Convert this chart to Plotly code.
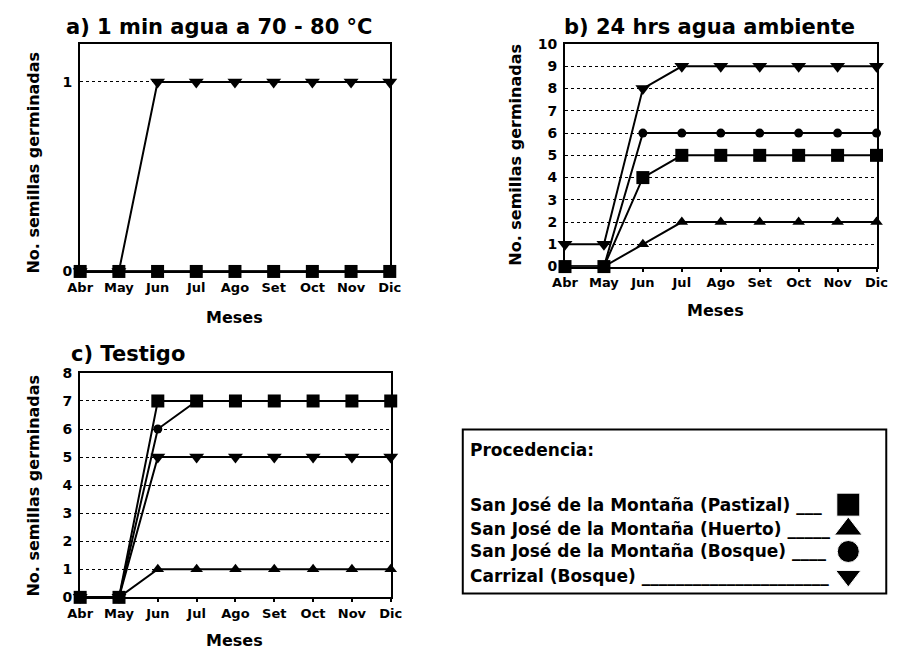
import plotly.graph_objects as go

# Months on the x axis
meses = ["Abr", "May", "Jun", "Jul", "Ago", "Set", "Oct", "Nov", "Dic"]

# Seed origins (legend labels) and their symbols
procedencias = [
    "San José de la Montaña (Pastizal)",
    "San José de la Montaña (Huerto)",
    "San José de la Montaña (Bosque)",
    "Carrizal (Bosque)",
]
simbolos = ["square", "triangle-up", "circle", "triangle-down"]

# a) 1 min in water at 70-80 °C
a_pastizal = [0, 0, 0, 0, 0, 0, 0, 0, 0]
a_huerto = [0, 0, 0, 0, 0, 0, 0, 0, 0]
a_bosque = [0, 0, 0, 0, 0, 0, 0, 0, 0]
a_carrizal = [0, 0, 1, 1, 1, 1, 1, 1, 1]

# b) 24 hrs in water at room temperature
b_pastizal = [0, 0, 4, 5, 5, 5, 5, 5, 5]
b_huerto = [0, 0, 1, 2, 2, 2, 2, 2, 2]
b_bosque = [0, 0, 6, 6, 6, 6, 6, 6, 6]
b_carrizal = [1, 1, 8, 9, 9, 9, 9, 9, 9]

# c) control
c_pastizal = [0, 0, 7, 7, 7, 7, 7, 7, 7]
c_huerto = [0, 0, 1, 1, 1, 1, 1, 1, 1]
c_bosque = [0, 0, 6, 7, 7, 7, 7, 7, 7]
c_carrizal = [0, 0, 5, 5, 5, 5, 5, 5, 5]

paneles = [
    ("x", "y", [a_pastizal, a_huerto, a_bosque, a_carrizal]),
    ("x2", "y2", [b_pastizal, b_huerto, b_bosque, b_carrizal]),
    ("x3", "y3", [c_pastizal, c_huerto, c_bosque, c_carrizal]),
]

W, H = 907, 660
FONT = "DejaVu Sans"
marker_size = {"square": 13, "triangle-up": 11, "circle": 9, "triangle-down": 13}

fig = go.Figure()
xs = list(range(len(meses)))
# draw order: Carrizal, Bosque, Huerto, Pastizal (squares on top)
for xa, ya, series in paneles:
    for i in [3, 2, 1, 0]:
        fig.add_trace(go.Scatter(
            x=xs, y=series[i], xaxis=xa, yaxis=ya, mode="lines+markers",
            line=dict(color="black", width=2),
            marker=dict(symbol=simbolos[i], size=marker_size[simbolos[i]], color="black"),
            cliponaxis=False, showlegend=False, name=procedencias[i],
        ))


def px_x(p):
    return p / W


def px_y(p):
    return 1 - p / H


def xaxis_cfg(x0, x1, y_anchor):
    return dict(
        domain=[px_x(x0), px_x(x1)], anchor=y_anchor, range=[0, 8],
        tickvals=xs, ticktext=meses,
        tickfont=dict(family=FONT, size=13, color="black", weight="bold"),
        showline=True, mirror=True, linecolor="black", linewidth=2,
        ticks="outside", ticklen=3, tickwidth=1.5, tickcolor="black",
        showgrid=False, zeroline=False, fixedrange=True,
    )


def yaxis_cfg(y0, y1, x_anchor, ymax, tickvals):
    return dict(
        domain=[px_y(y1), px_y(y0)], anchor=x_anchor, range=[0, ymax],
        tickvals=tickvals, tickfont=dict(family=FONT, size=14, color="black", weight="bold"),
        showline=True, mirror=True, linecolor="black", linewidth=2,
        ticks="", ticklabelstandoff=3,
        showgrid=True, gridcolor="black", gridwidth=1, griddash="dot",
        zeroline=False, fixedrange=True,
    )


# legend box in pixels
LX0, LX1, LY0, LY1 = 462, 897, 432, 600

fig.update_layout(
    width=W, height=H, margin=dict(l=0, r=0, t=0, b=0),
    paper_bgcolor="white", plot_bgcolor="rgba(0,0,0,0)", showlegend=False,
    xaxis=xaxis_cfg(69, 387, "y"),
    yaxis=yaxis_cfg(37, 270, "x", 1.2, [0, 1]),
    xaxis2=xaxis_cfg(567, 887, "y2"),
    yaxis2=yaxis_cfg(37, 265, "x2", 10, list(range(0, 11))),
    xaxis3=xaxis_cfg(69, 388, "y3"),
    yaxis3=yaxis_cfg(374, 604, "x3", 8, list(range(0, 9))),
    # legend-box area, in pixel units
    xaxis4=dict(domain=[px_x(LX0), px_x(LX1)], range=[LX0, LX1], visible=False,
                anchor="y4", fixedrange=True),
    yaxis4=dict(domain=[px_y(LY1), px_y(LY0)], range=[LY1, LY0], visible=False,
                anchor="x4", fixedrange=True),
)

# Legend box symbols
leg_x = 858
leg_y = [509, 534, 557, 582]
leg_sizes = [23, 24, 22, 22]
fig.add_trace(go.Scatter(
    x=[leg_x] * 4, y=leg_y, xaxis="x4", yaxis="y4", mode="markers",
    marker=dict(symbol=simbolos, size=leg_sizes, color="black", opacity=1),
    showlegend=False, hoverinfo="skip", cliponaxis=False,
))

fig.add_shape(type="rect", xref="paper", yref="paper",
              x0=px_x(LX0), x1=px_x(LX1), y0=px_y(LY1), y1=px_y(LY0),
              line=dict(color="black", width=2), fillcolor="rgba(0,0,0,0)")

ann = []
titulos = [
    ("a) 1 min agua a 70 - 80 °C", 212, 19),
    ("b) 24 hrs agua ambiente", 715, 19),
    ("c) Testigo", 118, 355),
]
for t, x, y in titulos:
    ann.append(dict(text=t, x=px_x(x), y=px_y(y), xref="paper", yref="paper",
                    showarrow=False, xanchor="center", yanchor="middle",
                    font=dict(family=FONT, size=21, color="black", weight="bold")))

for x, y in [(228, 317), (722, 310), (228, 648)]:
    ann.append(dict(text="Meses", x=px_x(x), y=px_y(y), xref="paper", yref="paper",
                    showarrow=False, xanchor="center", yanchor="middle",
                    font=dict(family=FONT, size=16, color="black", weight="bold")))

for x, y in [(21, 158), (516, 150), (21, 489)]:
    ann.append(dict(text="No. semillas germinadas", x=px_x(x), y=px_y(y),
                    xref="paper", yref="paper", showarrow=False, textangle=-90,
                    xanchor="center", yanchor="middle",
                    font=dict(family=FONT, size=16, color="black", weight="bold")))

leg_font = dict(family=FONT, size=17, color="black", weight="bold")
ann.append(dict(text="Procedencia:", x=px_x(467), y=px_y(453), xref="paper", yref="paper",
                showarrow=False, xanchor="left", yanchor="middle", font=leg_font))
rayas = [" ___", " _____", " ____", " ______________________"]
for nombre, raya, y in zip(procedencias, rayas, leg_y):
    ann.append(dict(text=nombre + raya, x=px_x(467), y=px_y(y), xref="paper", yref="paper",
                    showarrow=False, xanchor="left", yanchor="middle", font=leg_font))

fig.update_layout(annotations=ann)
fig.write_html("out.html")
